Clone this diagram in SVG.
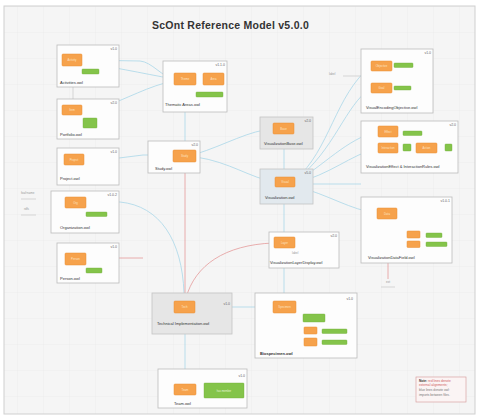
<svg xmlns="http://www.w3.org/2000/svg" width="479" height="418" viewBox="0 0 479 418">
<defs>
<style>
.bg{fill:#f5f5f5}
.frame{fill:none;stroke:#cfcfcf;stroke-width:1}
.box{fill:#fdfdfd;stroke:#bcbcbc;stroke-width:0.8}
.gbox{fill:#e6e6e6;stroke:#c4c4c4;stroke-width:0.8}
.vbox{fill:#e2e9ee;stroke:#c4c4c4;stroke-width:0.8}
.cls{fill:#f6a24c;stroke:#ea8d32;stroke-width:0.5}
.lit{fill:#84c44a;stroke:#6fae38;stroke-width:0.4}
.lbl{font-family:"Liberation Sans",Arial,sans-serif;font-size:4px;fill:#333}
.tag{font-family:"Liberation Sans",Arial,sans-serif;font-size:3.5px;fill:#666;text-anchor:end}
.in{font-family:"Liberation Sans",Arial,sans-serif;font-size:2.8px;fill:#fde2c4;text-anchor:middle}
.ing{font-family:"Liberation Sans",Arial,sans-serif;font-size:2.6px;fill:#e6f5d8;text-anchor:middle}
.tiny{font-family:"Liberation Sans",Arial,sans-serif;font-size:3px;fill:#999}
.blue{fill:none;stroke:#a9d7e8;stroke-width:0.8}
.red{fill:none;stroke:#e59a9a;stroke-width:0.8}
.dark{fill:none;stroke:#7a7a7a;stroke-width:0.7}
.grey{fill:none;stroke:#c8c8c8;stroke-width:0.7}
</style>
<pattern id="grid" width="26" height="26" patternUnits="userSpaceOnUse" x="17" y="6">
<path d="M0,0 L0,26 M0,0 L26,0" fill="none" stroke="#e8e8e8" stroke-width="0.6"/>
</pattern>
</defs>

<!-- page -->
<rect x="0" y="0" width="479" height="418" fill="#ffffff"/>
<rect class="bg" x="4" y="6" width="471" height="408"/>
<rect x="4" y="6" width="471" height="408" fill="url(#grid)"/>
<rect class="frame" x="4" y="6" width="471" height="408"/>

<text x="152" y="29" font-family="Liberation Sans,Arial,sans-serif" font-size="10.5" font-weight="bold" letter-spacing="0.25" fill="#333">ScOnt Reference Model v5.0.0</text>

<!-- connectors -->
<g id="connectors">
<path class="blue" d="M82,60 L140,61 C152,62 162,77 174,79"/>
<path class="blue" d="M82,63 C110,66 140,73 174,79"/>
<path class="blue" d="M82,108 L100,108 C125,100 150,85 174,81"/>
<path class="grey" d="M73,66 L73,105"/>
<path class="dark" d="M196,79 L203,79"/>
<path class="dark" d="M185,85 L185,94 L196,94"/>
<path class="blue" d="M185,97 L185,150"/>
<path class="blue" d="M84,159 L119,158 L143,155 L173,155"/>
<path class="blue" d="M86,202 L120,202 C160,206 182,240 184,293"/>
<path class="red" d="M86,258 L143,258"/>
<path class="red" d="M185,162 L185,301"/>
<path class="red" d="M186,298 C195,265 225,245 273,243"/>
<path class="blue" d="M185,313 L185,384"/>
<path class="blue" d="M195,307 L273,307"/>
<path class="blue" d="M284,134 L284,177"/>
<path class="blue" d="M284,187 L284,237"/>
<path class="blue" d="M284,248 L284,301"/>
<path class="blue" d="M196,157 C230,162 250,178 275,182"/>
<path class="blue" d="M196,154 C225,145 250,130 273,129"/>
<path class="blue" d="M295,180 C330,150 335,95 371,66"/>
<path class="blue" d="M295,181 C335,150 345,105 371,88"/>
<path class="blue" d="M295,182 C325,165 345,140 378,131"/>
<path class="blue" d="M295,183 C330,175 350,155 378,148"/>
<path class="blue" d="M295,184 L361,184"/>
<path class="blue" d="M295,186 C330,195 350,210 377,213"/>
<path class="grey" d="M343,76 L361,76"/>
<path class="dark" d="M392,66 L394,66"/>
<path class="dark" d="M381,71 L381,83"/>
<path class="dark" d="M392,88 L394,88"/>
<path class="dark" d="M398,133 L403,133"/>
<path class="dark" d="M398,148 L403,148 M411,148 L416,148 M437,148 L445,148"/>
<path class="dark" d="M387,219 L387,244"/>
<path class="red" d="M388,248 C392,240 398,235 407,234"/>
<path class="red" d="M388,250 C394,246 400,244 407,244"/>
<path class="red" d="M388,250 L388,279"/>
<path class="dark" d="M420,235 L426,235 M420,244 L426,244"/>
<path class="dark" d="M285,313 L285,342 M285,318 L303,318 M285,330 L304,330 M285,342 L304,342"/>
<path class="dark" d="M317,331 L322,331 M317,342 L322,342"/>
<path class="dark" d="M196,389 L204,389"/>
<path class="grey" d="M72,69 L72,71 L82,71"/>
<path class="grey" d="M72,118 L83,123"/>
<path class="grey" d="M78,165 L78,171 L102,171"/>
<path class="grey" d="M76,208 L76,214 L86,214"/>
<path class="grey" d="M76,265 L76,270 L86,270"/>
<text class="tiny" x="103" y="62">uses</text>
<text class="tiny" x="104" y="110">uses</text>
<text class="tiny" x="179" y="97">has</text>
</g>

<!-- module boxes -->
<g id="activities">
<rect class="box" x="57" y="45" width="62" height="42"/>
<text class="tag" x="117" y="50">v1.0</text>
<rect class="cls" x="62" y="54" width="20" height="12" rx="1"/>
<text class="in" x="72" y="61">Activity</text>
<rect class="lit" x="82" y="69" width="17" height="5" rx="0.8"/>
<text class="lbl" x="60" y="84">Activities.owl</text>
</g>

<g id="portfolio">
<rect class="box" x="57" y="99" width="62" height="40"/>
<text class="tag" x="117" y="104">v2.0</text>
<rect class="cls" x="62" y="105" width="20" height="10" rx="1"/>
<text class="in" x="72" y="111">Item</text>
<rect class="lit" x="83" y="118" width="14" height="10" rx="0.8"/>
<text class="lbl" x="60" y="136">Portfolio.owl</text>
</g>

<g id="thematic">
<rect class="box" x="163" y="61" width="64" height="51"/>
<text class="tag" x="225" y="66">v1.1.0</text>
<rect class="cls" x="174" y="73" width="22" height="12" rx="1"/>
<text class="in" x="185" y="80">Theme</text>
<rect class="cls" x="203" y="73" width="21" height="12" rx="1"/>
<text class="in" x="213.5" y="80">Area</text>
<rect class="lit" x="196" y="92" width="27" height="5" rx="0.8"/>
<text class="lbl" x="165" y="106">Thematic Areas.owl</text>
</g>

<g id="study">
<rect class="box" x="148" y="141" width="52" height="32"/>
<text class="tag" x="198" y="146">v2.0</text>
<rect class="cls" x="173" y="150" width="23" height="12" rx="1"/>
<text class="in" x="184.5" y="157">Study</text>
<text class="lbl" x="155" y="170">Study.owl</text>
</g>

<g id="project">
<rect class="box" x="57" y="148" width="62" height="37"/>
<text class="tag" x="117" y="153">v1.0</text>
<rect class="cls" x="64" y="154" width="20" height="11" rx="1"/>
<text class="in" x="74" y="160.5">Project</text>
<text class="lbl" x="60" y="180">Project.owl</text>
</g>

<g id="organization">
<rect class="box" x="51" y="191" width="68" height="42"/>
<text class="tag" x="117" y="196">v1.0.2</text>
<rect class="cls" x="65" y="197" width="21" height="11" rx="1"/>
<text class="in" x="75.5" y="203.5">Org</text>
<rect class="lit" x="86" y="212" width="21" height="4.5" rx="0.8"/>
<text class="lbl" x="60" y="229">Organization.owl</text>
<text class="tiny" x="21" y="194">foaf:name</text>
<path class="grey" d="M21,199 L36,199"/>
<text class="tiny" x="24" y="210">rdfs</text>
<path class="grey" d="M21,215 L36,215"/>
</g>

<g id="person">
<rect class="box" x="57" y="243" width="62" height="40"/>
<text class="tag" x="117" y="248">v1.0</text>
<rect class="cls" x="65" y="253" width="21" height="12" rx="1"/>
<text class="in" x="75.5" y="260">Person</text>
<rect class="lit" x="86" y="268" width="16" height="5" rx="0.8"/>
<text class="lbl" x="60" y="280">Person.owl</text>
</g>

<g id="visual-objective">
<rect class="box" x="361" y="49" width="72" height="64"/>
<text class="tag" x="431" y="54">v1.0</text>
<rect class="cls" x="371" y="61" width="21" height="10" rx="1"/>
<text class="in" x="381.5" y="67">Objective</text>
<rect class="lit" x="394" y="63" width="19" height="4.5" rx="0.8"/>
<rect class="cls" x="371" y="83" width="21" height="10" rx="1"/>
<text class="in" x="381.5" y="89">Goal</text>
<rect class="lit" x="394" y="86" width="17" height="4" rx="0.8"/>
<text class="lbl" x="366" y="109">VisualEncodingObjective.owl</text>
<text class="tiny" x="329" y="75">label</text>
</g>

<g id="visual-effect">
<rect class="box" x="361" y="121" width="97" height="52"/>
<text class="tag" x="456" y="126">v2.0</text>
<rect class="cls" x="378" y="126" width="20" height="11" rx="1"/>
<text class="in" x="388" y="132.5">Effect</text>
<rect class="lit" x="403" y="131" width="19" height="4.5" rx="0.8"/>
<rect class="cls" x="378" y="143" width="20" height="10" rx="1"/>
<text class="in" x="388" y="149">Interaction</text>
<rect class="lit" x="403" y="144" width="8" height="7" rx="0.8"/>
<rect class="cls" x="416" y="143" width="21" height="10" rx="1"/>
<text class="in" x="426.5" y="149">Action</text>
<rect class="lit" x="445" y="144" width="7" height="7" rx="0.8"/>
<text class="lbl" x="366" y="168">VisualizationEffect &amp; InteractionRules.owl</text>
</g>

<g id="visualization-base">
<rect class="gbox" x="260" y="117" width="53" height="32"/>
<text class="tag" x="311" y="122">v2.0</text>
<rect class="cls" x="273" y="123" width="21" height="11" rx="1"/>
<text class="in" x="283.5" y="129.5">Base</text>
<text class="lbl" x="264" y="145">VisualizationBase.owl</text>
</g>

<g id="visualization">
<rect class="vbox" x="260" y="169" width="53" height="35"/>
<text class="tag" x="311" y="174">v5.0</text>
<rect class="cls" x="275" y="177" width="20" height="10" rx="1"/>
<text class="in" x="285" y="183">Visual</text>
<text class="lbl" x="265" y="199">Visualization.owl</text>
</g>

<g id="visual-data">
<rect class="box" x="361" y="197" width="91" height="66"/>
<text class="tag" x="450" y="202">v1.0.1</text>
<rect class="cls" x="377" y="208" width="20" height="11" rx="1"/>
<text class="in" x="387" y="214.5">Data</text>
<rect class="cls" x="407" y="231" width="13" height="7" rx="0.8"/>
<rect class="cls" x="407" y="241" width="13" height="6.5" rx="0.8"/>
<rect class="lit" x="426" y="233" width="16" height="4.5" rx="0.8"/>
<rect class="lit" x="426" y="242" width="21" height="4.5" rx="0.8"/>
<text class="lbl" x="368" y="259">VisualizationDataField.owl</text>
<text class="tiny" x="388" y="283" text-anchor="middle">ext</text>
<path class="grey" d="M381,287 L395,287"/>
</g>

<g id="visual-layer">
<rect class="box" x="269" y="232" width="70" height="36"/>
<text class="tag" x="337" y="237">v2.0</text>
<rect class="cls" x="274" y="237" width="21" height="11" rx="1"/>
<text class="in" x="284.5" y="243.5">Layer</text>
<text class="tiny" x="292" y="254">label</text>
<text class="lbl" x="270" y="264">VisualizationLayerDisplay.owl</text>
</g>

<g id="technical">
<rect class="gbox" x="152" y="293" width="80" height="41"/>
<text class="tag" x="230" y="305">v1.0</text>
<rect class="cls" x="174" y="301" width="21" height="12" rx="1"/>
<text class="in" x="184.5" y="308">Tech</text>
<text class="lbl" x="157" y="325">Technical Implementation.owl</text>
</g>

<g id="biospecimen">
<rect class="box" x="255" y="293" width="102" height="65"/>
<text class="tag" x="353" y="300">v1.0</text>
<rect class="cls" x="273" y="301" width="23" height="12" rx="1"/>
<text class="in" x="284.5" y="308">Specimen</text>
<rect class="lit" x="303" y="314" width="22" height="8" rx="0.8"/>
<rect class="cls" x="304" y="327" width="13" height="7" rx="0.8"/>
<rect class="lit" x="322" y="329" width="25" height="4.5" rx="0.8"/>
<rect class="cls" x="304" y="338" width="13" height="8" rx="0.8"/>
<rect class="lit" x="322" y="340" width="25" height="4.5" rx="0.8"/>
<text class="lbl" x="260" y="355" font-weight="bold">Biospecimen.owl</text>
</g>

<g id="team">
<rect class="box" x="158" y="369" width="89" height="39"/>
<text class="tag" x="245" y="377">v1.0</text>
<rect class="cls" x="174" y="384" width="22" height="11" rx="1"/>
<text class="in" x="185" y="390.5">Team</text>
<rect class="lit" x="204" y="383" width="40" height="15" rx="0.8"/>
<text class="ing" x="224" y="392">has member</text>
<text class="lbl" x="174" y="405">Team.owl</text>
</g>

<!-- legend -->
<g id="note">
<rect x="416" y="377" width="50" height="25" fill="#fbf4f4" stroke="#d9a3a3" stroke-width="0.7"/>
<text x="419" y="382" font-family="Liberation Sans,Arial,sans-serif" font-size="3.2" fill="#333"><tspan font-weight="bold">Note:</tspan><tspan fill="#d06060"> red lines denote</tspan></text>
<text x="419" y="386" font-family="Liberation Sans,Arial,sans-serif" font-size="3.2" fill="#d06060">external alignments;</text>
<text x="419" y="391" font-family="Liberation Sans,Arial,sans-serif" font-size="3.2" fill="#777">blue lines denote owl:</text>
<text x="419" y="396" font-family="Liberation Sans,Arial,sans-serif" font-size="3.2" fill="#777">imports between files.</text>
</g>
</svg>
